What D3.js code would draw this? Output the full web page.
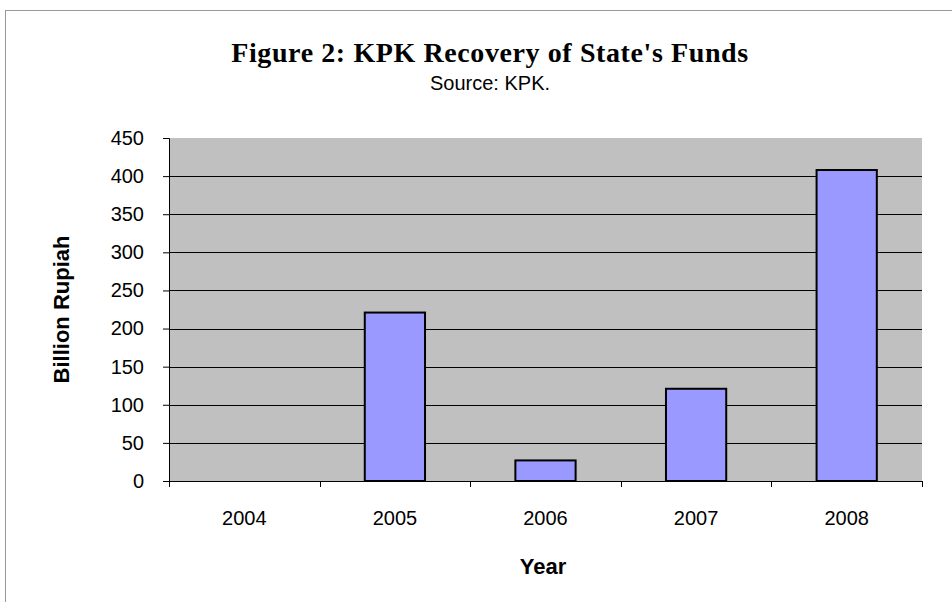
<!DOCTYPE html>
<html>
<head>
<meta charset="utf-8">
<script src="https://cdn.jsdelivr.net/npm/d3@7"></script>
<style>
    body { margin: 0; background: #fff; }
    svg { display: block; }
</style>
</head>
<body>
<div id="chart"></div>
<script>
const years = ['2004', '2005', '2006', '2007', '2008'];
const recovered = [0, 221, 27, 121, 408];
const yTicks = [0, 50, 100, 150, 200, 250, 300, 350, 400, 450];

const width = 952;
const height = 602;
const margin = { top: 138, right: 30, bottom: 121, left: 169 };
const plotW = width - margin.left - margin.right;
const plotH = height - margin.top - margin.bottom;
const sans = 'Arial, "Liberation Sans", sans-serif';

const svg = d3.select('#chart')
    .append('svg')
    .attr('width', width)
    .attr('height', height);

// outer frame
svg.append('rect')
    .attr('x', 5.5)
    .attr('y', 10.5)
    .attr('width', width)
    .attr('height', height)
    .attr('fill', 'none')
    .attr('stroke', '#999');

const x = d3.scaleBand()
    .domain(years)
    .range([0, plotW])
    .paddingInner(0.6)
    .paddingOuter(0.3);

const y = d3.scaleLinear()
    .domain([0, 450])
    .range([plotH, 0]);

const g = svg.append('g')
    .attr('transform', `translate(${margin.left}, ${margin.top})`);

g.append('rect')
    .attr('width', plotW)
    .attr('height', plotH)
    .attr('fill', '#c0c0c0');

// gridlines
g.selectAll('.grid')
    .data(yTicks.filter(d => d > 0 && d < 450))
    .enter()
    .append('line')
    .attr('x1', 0)
    .attr('x2', plotW)
    .attr('y1', d => Math.round(y(d)) + 0.5)
    .attr('y2', d => Math.round(y(d)) + 0.5)
    .attr('stroke', '#000')
    .attr('stroke-width', 1);

// bars
const barData = years.map((yr, i) => ({ year: yr, value: recovered[i] })).filter(d => d.value > 0);
g.selectAll('.bar')
    .data(barData)
    .enter()
    .append('rect')
    .attr('x', d => x(d.year))
    .attr('y', d => y(d.value))
    .attr('width', x.bandwidth())
    .attr('height', d => plotH - y(d.value))
    .attr('fill', '#9999ff')
    .attr('stroke', '#000')
    .attr('stroke-width', 2);

// y axis
const yAxis = d3.axisLeft(y).tickValues(yTicks).tickSize(6).tickPadding(19);
const yG = g.append('g').call(yAxis);
yG.select('.domain').attr('stroke', '#000');
yG.selectAll('text')
    .attr('font-family', sans)
    .attr('font-size', 20)
    .attr('fill', '#000');

// x axis
const xEdges = d3.scaleLinear().domain([0, years.length]).range([0, plotW]);
const xG = g.append('g').attr('transform', `translate(0, ${plotH})`);
xG.append('line')
    .attr('x1', 0)
    .attr('x2', plotW)
    .attr('y1', 0.5)
    .attr('y2', 0.5)
    .attr('stroke', '#000');
xG.selectAll('.tick')
    .data(d3.range(years.length + 1))
    .enter()
    .append('line')
    .attr('x1', d => Math.round(xEdges(d)) + 0.5)
    .attr('x2', d => Math.round(xEdges(d)) + 0.5)
    .attr('y1', 0)
    .attr('y2', 6)
    .attr('stroke', '#000');
xG.selectAll('.label')
    .data(years)
    .enter()
    .append('text')
    .attr('x', d => x(d) + x.bandwidth() / 2)
    .attr('y', 44)
    .attr('text-anchor', 'middle')
    .attr('font-family', sans)
    .attr('font-size', 20)
    .text(d => d);

// titles
svg.append('text')
    .attr('x', 490)
    .attr('y', 62)
    .attr('text-anchor', 'middle')
    .attr('font-family', '"Times New Roman", "Liberation Serif", serif')
    .attr('font-weight', 'bold')
    .attr('font-size', 28)
    .attr('letter-spacing', 0.6)
    .text("Figure 2: KPK Recovery of State's Funds");

svg.append('text')
    .attr('x', 490)
    .attr('y', 90)
    .attr('text-anchor', 'middle')
    .attr('font-family', sans)
    .attr('font-size', 20)
    .text('Source: KPK.');

svg.append('text')
    .attr('x', 543)
    .attr('y', 574)
    .attr('text-anchor', 'middle')
    .attr('font-family', sans)
    .attr('font-weight', 'bold')
    .attr('font-size', 22)
    .text('Year');

svg.append('text')
    .attr('transform', `translate(69, ${margin.top + plotH / 2}) rotate(-90)`)
    .attr('text-anchor', 'middle')
    .attr('font-family', sans)
    .attr('font-weight', 'bold')
    .attr('font-size', 22)
    .text('Billion Rupiah');
</script>
</body>
</html>
